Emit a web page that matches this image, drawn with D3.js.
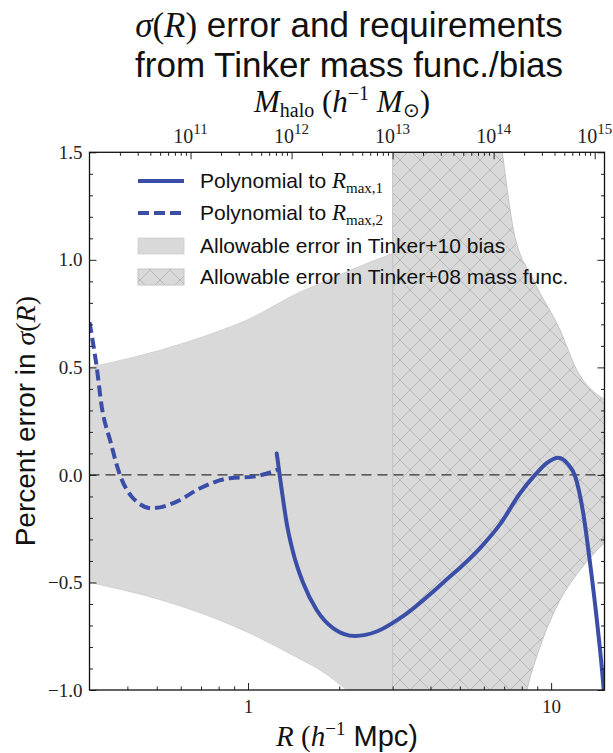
<!DOCTYPE html>
<html>
<head>
<meta charset="utf-8">
<script src="https://cdn.jsdelivr.net/npm/d3@7"></script>
<style>
  body { margin: 0; background: #fff; }
  svg { display: block; }
</style>
</head>
<body>
<div id="chart"></div>
<script>
// polynomial fit to R_max,1 (solid line)
const fit1R   = [1.244, 1.292, 1.342, 1.411, 1.522, 1.685, 1.912, 2.255, 2.659, 3.173, 4.41, 5.83, 6.78, 7.90, 8.85, 9.67, 10.56, 11.40, 11.99, 12.77, 13.44, 14.14, 14.87, 15.0];
const fit1Err = [0.10, -0.07, -0.225, -0.364, -0.504, -0.628, -0.713, -0.749, -0.728, -0.666, -0.50, -0.34, -0.23, -0.085, 0.0, 0.055, 0.08, 0.048, -0.005, -0.18, -0.41, -0.67, -0.98, -1.05];

// polynomial fit to R_max,2 (dashed line)
const fit2R   = [0.300, 0.317, 0.329, 0.351, 0.378, 0.413, 0.481, 0.582, 0.695, 0.872, 1.041, 1.259];
const fit2Err = [0.71, 0.50, 0.32, 0.16, 0.0, -0.10, -0.155, -0.124, -0.062, -0.015, -0.008, 0.026];

// allowable error from Tinker+10 bias
const biasR     = [0.3, 0.513, 0.788, 0.992, 1.484, 1.728, 2.117, 3.0];
const biasUpper = [0.50, 0.58, 0.665, 0.72, 0.85, 0.89, 0.945, 1.03];
const biasLower = [-0.50, -0.58, -0.67, -0.73, -0.856, -0.907, -1.0, -1.2];

// allowable error from Tinker+08 mass function (R >= 3)
const massUpR = [3.0, 5.5, 6.9, 7.51, 8.74, 10.70, 12.15, 15.0];
const massUp  = [6.0, 2.6, 1.5, 1.14, 0.907, 0.674, 0.488, 0.35];
const massLoR = [3.0, 6.5, 8.32, 9.19, 10.43, 12.45, 15.0];
const massLo  = [-6.0, -2.0, -1.0, -0.80, -0.612, -0.442, -0.315];

const xMajor = [1, 10];
const xMinor = [0.4, 0.5, 0.6, 0.7, 0.8, 0.9, 2, 3, 4, 5, 6, 7, 8, 9];
const yMajor = [-1.0, -0.5, 0.0, 0.5, 1.0, 1.5];
const mMajorExp = [11, 12, 13, 14, 15];
const massPerR3 = 1e13 / 27; // h^-1 Msun per (h^-1 Mpc)^3

const width = 613, height = 753;
const pL = 89.5, pR = 604.5, pT = 152.3, pB = 690;
const serif = "'Liberation Serif', 'Times New Roman', serif";
const sans = "'Liberation Sans', Arial, Helvetica, sans-serif";
const blue = "#3a4ea8";
const fillGray = "#d9d9d9";

const x = d3.scaleLog().domain([0.3, 15]).range([pL, pR]);
const y = d3.scaleLinear().domain([-1, 1.5]).range([pB, pT]);
const xm = d3.scaleLog()
    .domain([massPerR3 * Math.pow(0.3, 3), massPerR3 * Math.pow(15, 3)])
    .range([pL, pR]);

const svg = d3.select("#chart").append("svg")
    .attr("width", width)
    .attr("height", height);

const defs = svg.append("defs");
defs.append("clipPath").attr("id", "plot")
  .append("rect")
    .attr("x", pL).attr("y", pT)
    .attr("width", pR - pL).attr("height", pB - pT);

const hs = 20;
const hatch = defs.append("pattern")
    .attr("id", "hatch")
    .attr("patternUnits", "userSpaceOnUse")
    .attr("width", hs).attr("height", hs);
hatch.append("rect").attr("width", hs).attr("height", hs).attr("fill", fillGray);
hatch.append("path")
    .attr("d", `M0,0L${hs},${hs}M${hs},0L0,${hs}M-1,${hs - 1}L1,${hs + 1}M${hs - 1},-1L${hs + 1},1M-1,1L1,-1M${hs - 1},${hs + 1}L${hs + 1},${hs - 1}`)
    .attr("stroke", "#b8b8b8")
    .attr("stroke-width", 1);

const plot = svg.append("g").attr("clip-path", "url(#plot)");

// bias band
const biasData = biasR.map((r, i) => ({ r, hi: biasUpper[i], lo: biasLower[i] }));
plot.append("path")
    .datum(biasData)
    .attr("fill", fillGray)
    .attr("stroke", "#cdcdcd")
    .attr("stroke-width", 0.8)
    .attr("d", d3.area()
        .x(d => x(d.r))
        .y0(d => y(d.lo))
        .y1(d => y(d.hi))
        .curve(d3.curveMonotoneX));

// mass function band, hatched
const bandLine = d3.line().x(d => x(d[0])).y(d => y(d[1])).curve(d3.curveMonotoneX);
const upPts = massUpR.map((r, i) => [r, massUp[i]]);
const loPts = massLoR.map((r, i) => [r, massLo[i]]).reverse();
const massPath = bandLine(upPts) + "L" + bandLine(loPts).slice(1) + "Z";
plot.append("path")
    .attr("d", massPath)
    .attr("fill", "url(#hatch)")
    .attr("stroke", "#c4c4c4")
    .attr("stroke-width", 1);

// zero line
plot.append("line")
    .attr("x1", pL).attr("x2", pR)
    .attr("y1", y(0)).attr("y2", y(0))
    .attr("stroke", "#333")
    .attr("stroke-width", 1.4)
    .attr("stroke-dasharray", "10,6");

const fitLine = d3.line()
    .x(d => x(d[0]))
    .y(d => y(d[1]))
    .curve(d3.curveMonotoneX);

plot.append("path")
    .datum(fit2R.map((r, i) => [r, fit2Err[i]]))
    .attr("fill", "none")
    .attr("stroke", blue)
    .attr("stroke-width", 4)
    .attr("stroke-dasharray", "11,5")
    .attr("d", fitLine);

plot.append("path")
    .datum(fit1R.map((r, i) => [r, fit1Err[i]]))
    .attr("fill", "none")
    .attr("stroke", blue)
    .attr("stroke-width", 4)
    .attr("stroke-linecap", "round")
    .attr("d", fitLine);

// ticks (all pointing inward)
function styleAxis(g) {
    g.select(".domain").remove();
    g.selectAll(".tick line").attr("stroke", "#222").attr("stroke-width", 1);
    g.selectAll("text").attr("font-family", serif).attr("font-size", 19).attr("fill", "#222");
}

svg.append("g")
    .attr("transform", `translate(0,${pB})`)
    .call(d3.axisBottom(x).tickValues(xMajor).tickFormat(d3.format("d"))
        .tickSizeInner(-7).tickSizeOuter(0).tickPadding(10))
    .call(styleAxis);
svg.append("g")
    .attr("transform", `translate(0,${pB})`)
    .call(d3.axisBottom(x).tickValues(xMinor).tickFormat("")
        .tickSizeInner(-3.5).tickSizeOuter(0))
    .call(styleAxis);

const mMajor = mMajorExp.map(e => Math.pow(10, e));
const mMinor = [];
for (let e = 10; e <= 15; e++) {
    for (let k = 2; k <= 9; k++) {
        const m = k * Math.pow(10, e);
        if (m > xm.domain()[0] && m < xm.domain()[1]) mMinor.push(m);
    }
}
svg.append("g")
    .attr("transform", `translate(0,${pT})`)
    .call(d3.axisTop(xm).tickValues(mMajor).tickFormat("")
        .tickSizeInner(-7).tickSizeOuter(0))
    .call(styleAxis);
svg.append("g")
    .attr("transform", `translate(0,${pT})`)
    .call(d3.axisTop(xm).tickValues(mMinor).tickFormat("")
        .tickSizeInner(-3.5).tickSizeOuter(0))
    .call(styleAxis);

const topLabels = svg.append("g")
    .attr("font-family", serif)
    .attr("fill", "#222");
mMajorExp.forEach(e => {
    const t = topLabels.append("text")
        .attr("x", xm(Math.pow(10, e)))
        .attr("y", pT - 9)
        .attr("text-anchor", "middle")
        .attr("font-size", 20);
    t.append("tspan").text("10");
    t.append("tspan").attr("dy", -9).attr("font-size", 15).text(e);
});

const yMinor = d3.range(-10, 16).map(i => i / 10).filter(v => !yMajor.some(m => Math.abs(m - v) < 1e-6));
const yFmt = d => (d < 0 ? "\u2212" : "") + Math.abs(d).toFixed(1);

svg.append("g")
    .attr("transform", `translate(${pL},0)`)
    .call(d3.axisLeft(y).tickValues(yMajor).tickFormat(yFmt)
        .tickSizeInner(-7).tickSizeOuter(0).tickPadding(7))
    .call(styleAxis);
svg.append("g")
    .attr("transform", `translate(${pL},0)`)
    .call(d3.axisLeft(y).tickValues(yMinor).tickFormat("")
        .tickSizeInner(-3.5).tickSizeOuter(0))
    .call(styleAxis);
svg.append("g")
    .attr("transform", `translate(${pR},0)`)
    .call(d3.axisRight(y).tickValues(yMajor).tickFormat("")
        .tickSizeInner(-7).tickSizeOuter(0))
    .call(styleAxis);
svg.append("g")
    .attr("transform", `translate(${pR},0)`)
    .call(d3.axisRight(y).tickValues(yMinor).tickFormat("")
        .tickSizeInner(-3.5).tickSizeOuter(0))
    .call(styleAxis);

// frame
svg.append("rect")
    .attr("x", pL).attr("y", pT)
    .attr("width", pR - pL).attr("height", pB - pT)
    .attr("fill", "none")
    .attr("stroke", "#111")
    .attr("stroke-width", 1.3);

// titles and axis labels
const title = svg.append("g").attr("font-size", 35).attr("text-anchor", "middle").attr("fill", "#111");
const t1 = title.append("text").attr("x", (pL + pR) / 2 + 2).attr("y", 37);
t1.append("tspan").attr("font-family", serif).attr("font-style", "italic").text("σ");
t1.append("tspan").attr("font-family", serif).text("(");
t1.append("tspan").attr("font-family", serif).attr("font-style", "italic").text("R");
t1.append("tspan").attr("font-family", serif).text(")");
t1.append("tspan").attr("font-family", sans).text(" error and requirements");
title.append("text").attr("x", (pL + pR) / 2 + 2).attr("y", 77)
    .attr("font-family", sans).text("from Tinker mass func./bias");

const topLab = svg.append("text")
    .attr("x", (pL + pR) / 2 - 5).attr("y", 112)
    .attr("text-anchor", "middle")
    .attr("font-family", serif).attr("font-size", 31).attr("fill", "#111");
topLab.append("tspan").attr("font-style", "italic").text("M");
topLab.append("tspan").attr("font-size", 20).attr("dy", 5).text("halo");
topLab.append("tspan").attr("dy", -5).text(" (");
topLab.append("tspan").attr("font-style", "italic").text("h");
topLab.append("tspan").attr("font-size", 20).attr("dy", -12).text("−1");
topLab.append("tspan").attr("dy", 12).text(" ");
topLab.append("tspan").attr("font-style", "italic").text("M");
topLab.append("tspan").attr("font-size", 20).attr("dy", 5).text("⊙");
topLab.append("tspan").attr("dy", -5).text(")");

const botLab = svg.append("text")
    .attr("x", (pL + pR) / 2).attr("y", 746)
    .attr("text-anchor", "middle")
    .attr("font-size", 29).attr("fill", "#111");
botLab.append("tspan").attr("font-family", serif).attr("font-style", "italic").text("R");
botLab.append("tspan").attr("font-family", serif).text(" (");
botLab.append("tspan").attr("font-family", serif).attr("font-style", "italic").text("h");
botLab.append("tspan").attr("font-family", serif).attr("font-size", 19).attr("dy", -11).text("−1");
botLab.append("tspan").attr("font-family", sans).attr("dy", 11).text(" Mpc)");

const yLab = svg.append("text")
    .attr("transform", `translate(35,${(pT + pB) / 2}) rotate(-90)`)
    .attr("text-anchor", "middle")
    .attr("font-size", 28).attr("fill", "#111");
yLab.append("tspan").attr("font-family", sans).text("Percent error in ");
yLab.append("tspan").attr("font-family", serif).attr("font-style", "italic").text("σ");
yLab.append("tspan").attr("font-family", serif).text("(");
yLab.append("tspan").attr("font-family", serif).attr("font-style", "italic").text("R");
yLab.append("tspan").attr("font-family", serif).text(")");

// legend
const legend = svg.append("g").attr("font-size", 21).attr("fill", "#111");
const rows = [181, 213, 246, 277];
legend.append("line").attr("x1", 138).attr("x2", 184).attr("y1", rows[0]).attr("y2", rows[0])
    .attr("stroke", blue).attr("stroke-width", 4);
legend.append("line").attr("x1", 138).attr("x2", 184).attr("y1", rows[1]).attr("y2", rows[1])
    .attr("stroke", blue).attr("stroke-width", 4).attr("stroke-dasharray", "11,5");
legend.append("rect").attr("x", 138).attr("y", rows[2] - 8).attr("width", 46).attr("height", 16)
    .attr("fill", fillGray).attr("stroke", "#cdcdcd").attr("stroke-width", 0.8);
legend.append("rect").attr("x", 138).attr("y", rows[3] - 8).attr("width", 46).attr("height", 16)
    .attr("fill", "url(#hatch)").attr("stroke", "#c4c4c4").attr("stroke-width", 1);

function polyLabel(row, sub) {
    const t = legend.append("text").attr("x", 200).attr("y", rows[row] + 7).attr("font-family", sans);
    t.append("tspan").text("Polynomial to ");
    t.append("tspan").attr("font-family", serif).attr("font-style", "italic").attr("font-size", 23).text("R");
    t.append("tspan").attr("font-family", serif).attr("font-size", 15).attr("dy", 5).text(sub);
}
polyLabel(0, "max,1");
polyLabel(1, "max,2");
legend.append("text").attr("x", 200).attr("y", rows[2] + 7).attr("font-family", sans)
    .text("Allowable error in Tinker+10 bias");
legend.append("text").attr("x", 200).attr("y", rows[3] + 7).attr("font-family", sans)
    .text("Allowable error in Tinker+08 mass func.");
</script>
</body>
</html>
